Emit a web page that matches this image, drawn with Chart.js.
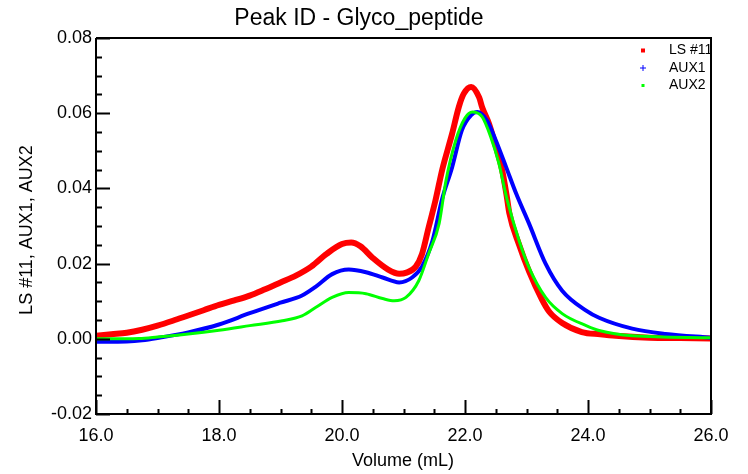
<!DOCTYPE html>
<html lang="en">
<head>
    <meta charset="UTF-8">
    <title>Peak ID - Glyco_peptide</title>
    <script src="https://cdn.jsdelivr.net/npm/chart.js"></script>
    <style>
        html, body { margin: 0; padding: 0; background: #fff; }
        #wrap { width: 748px; height: 474px; }
    </style>
</head>
<body>
    <div id="wrap"><canvas id="myChart" width="748" height="474"></canvas></div>

<script>
// dados (volume em mL)
const lsVolume = [16.0, 16.25, 16.5, 16.75, 17.0, 17.25, 17.5, 17.75, 18.0, 18.25, 18.5, 18.75, 19.0, 19.25, 19.5, 19.75, 20.0, 20.15, 20.3, 20.5, 20.75, 20.93, 21.05, 21.2, 21.3, 21.41, 21.52, 21.63, 21.79, 21.9, 21.98, 22.1, 22.23, 22.28, 22.39, 22.5, 22.6, 22.68, 22.72, 22.88, 23.04, 23.25, 23.37, 23.58, 23.9, 24.2, 24.45, 25.0, 25.5, 26.0];
const lsValues = [0.0008, 0.0012, 0.0016, 0.0024, 0.0035, 0.0048, 0.0062, 0.0076, 0.0090, 0.0102, 0.0115, 0.0132, 0.0150, 0.0168, 0.0192, 0.0226, 0.0252, 0.0256, 0.0246, 0.0215, 0.0184, 0.0173, 0.0176, 0.0192, 0.0225, 0.0297, 0.0368, 0.0450, 0.0545, 0.0617, 0.0652, 0.0670, 0.0642, 0.0615, 0.0572, 0.0512, 0.0452, 0.0378, 0.0335, 0.0250, 0.0180, 0.0105, 0.0072, 0.0042, 0.0018, 0.0012, 0.0008, 0.0003, 0.0002, 0.0001];

const aux1Volume = [16.0, 16.5, 16.75, 17.0, 17.5, 18.0, 18.5, 19.0, 19.35, 19.57, 19.84, 20.11, 20.39, 20.66, 20.93, 21.14, 21.3, 21.47, 21.63, 21.79, 21.95, 22.1, 22.2, 22.36, 22.5, 22.67, 22.83, 23.04, 23.31, 23.58, 23.97, 24.18, 24.72, 25.26, 26.0];
const aux1Values = [-0.0008, -0.0007, -0.0004, 0.0002, 0.0017, 0.0038, 0.0068, 0.0096, 0.0115, 0.0138, 0.0172, 0.0184, 0.0177, 0.0163, 0.0150, 0.0163, 0.0192, 0.0260, 0.0373, 0.0456, 0.0555, 0.0595, 0.0603, 0.0580, 0.0528, 0.0456, 0.0387, 0.0307, 0.0200, 0.0128, 0.0075, 0.0056, 0.0027, 0.0013, 0.0003];

const aux2Volume = [16.0, 16.7, 17.0, 17.5, 18.0, 18.5, 19.03, 19.35, 19.57, 19.84, 20.11, 20.39, 20.66, 20.85, 21.04, 21.25, 21.41, 21.58, 21.69, 21.85, 22.0, 22.12, 22.28, 22.42, 22.55, 22.68, 22.88, 23.04, 23.31, 23.58, 23.97, 24.18, 24.72, 26.0];
const aux2Values = [0.0000, 0.0001, 0.0005, 0.0013, 0.0023, 0.0035, 0.0048, 0.0061, 0.0083, 0.0110, 0.0123, 0.0120, 0.0107, 0.0101, 0.0110, 0.0155, 0.0227, 0.0307, 0.0420, 0.0528, 0.0587, 0.0603, 0.0590, 0.0536, 0.0467, 0.0373, 0.0261, 0.0190, 0.0110, 0.0067, 0.0035, 0.0022, 0.0008, 0.0003];

const seriesNames = ['LS #11', 'AUX1', 'AUX2'];
const xTickLabels = ['16.0', '18.0', '20.0', '22.0', '24.0', '26.0'];
const yTickLabels = ['-0.02', '0.00', '0.02', '0.04', '0.06', '0.08'];

const fonte = '"Liberation Sans", Arial, sans-serif';

function pares(vol, val) {
    let lista = [];
    for (let i = 0; i < vol.length; i++) {
        lista.push({ x: vol[i], y: val[i] });
    }
    return lista;
}

// titulo, eixos, moldura, ticks para dentro e legenda
const desenhoExtra = {
    id: 'desenhoExtra',
    afterDraw(chart) {
        const ctx = chart.ctx;
        const area = chart.chartArea;
        const xs = chart.scales.x;
        const ys = chart.scales.y;
        ctx.save();

        ctx.strokeStyle = '#000';
        ctx.lineWidth = 2;
        ctx.beginPath();
        ctx.moveTo(area.left, area.top);
        ctx.lineTo(area.left, area.bottom);
        ctx.lineTo(area.right, area.bottom);
        ctx.lineTo(area.right, area.top);
        ctx.lineTo(area.left, area.top);
        ctx.stroke();

        // ticks
        ctx.lineWidth = 2;
        ctx.beginPath();
        for (let i = 0; i <= 20; i++) {
            let v = 16 + i * 0.5;
            let px = Math.round(xs.getPixelForValue(v)) + 0.5;
            let len = (i % 4 == 0) ? 14 : 5;
            ctx.moveTo(px, area.bottom);
            ctx.lineTo(px, area.bottom - len);
        }
        for (let i = 0; i <= 20; i++) {
            let v = -0.02 + i * 0.005;
            let py = Math.round(ys.getPixelForValue(v)) + 0.5;
            let len = (i % 4 == 0) ? 14 : 6;
            ctx.moveTo(area.left, py);
            ctx.lineTo(area.left + len, py);
        }
        ctx.stroke();

        // titulo
        ctx.fillStyle = '#000';
        ctx.font = '23px ' + fonte;
        ctx.textAlign = 'center';
        ctx.textBaseline = 'alphabetic';
        ctx.fillText('Peak ID - Glyco_peptide', 359, 25);

        // titulos dos eixos
        ctx.font = '18px ' + fonte;
        ctx.textBaseline = 'middle';
        ctx.fillText('Volume (mL)', 403, 461);
        ctx.save();
        ctx.translate(27, 230);
        ctx.rotate(-Math.PI / 2);
        ctx.fillText('LS #11, AUX1, AUX2', 0, 0);
        ctx.restore();

        // legenda
        ctx.font = '14px ' + fonte;
        ctx.textAlign = 'left';
        const linhas = [50.5, 68, 85.5];
        ctx.fillStyle = 'rgb(255,0,0)';
        ctx.fillRect(641, linhas[0] - 2, 4, 4);
        ctx.strokeStyle = 'rgb(0,0,255)';
        ctx.lineWidth = 1;
        ctx.beginPath();
        ctx.moveTo(640, linhas[1]); ctx.lineTo(646, linhas[1]);
        ctx.moveTo(643, linhas[1] - 3); ctx.lineTo(643, linhas[1] + 3);
        ctx.stroke();
        ctx.fillStyle = 'rgb(0,255,0)';
        ctx.fillRect(641.5, linhas[2] - 1.5, 3, 3);
        ctx.fillStyle = '#000';
        for (let i = 0; i < seriesNames.length; i++) {
            ctx.fillText(seriesNames[i], 669, linhas[i]);
        }
        ctx.restore();
    }
};

const config = {
    type: 'line',
    data: {
        datasets: [
            {
                label: seriesNames[0],
                data: pares(lsVolume, lsValues),
                borderColor: 'rgb(255, 0, 0)',
                borderWidth: 6,
                pointRadius: 0,
                cubicInterpolationMode: 'monotone',
                order: 3
            },
            {
                label: seriesNames[1],
                data: pares(aux1Volume, aux1Values),
                borderColor: 'rgb(0, 0, 255)',
                borderWidth: 4,
                pointRadius: 0,
                cubicInterpolationMode: 'monotone',
                order: 2
            },
            {
                label: seriesNames[2],
                data: pares(aux2Volume, aux2Values),
                borderColor: 'rgb(0, 255, 0)',
                borderWidth: 3,
                pointRadius: 0,
                cubicInterpolationMode: 'monotone',
                order: 1
            }
        ]
    },
    options: {
        responsive: false,
        animation: false,
        devicePixelRatio: 1,
        layout: { padding: { top: 38, right: 37, left: 0, bottom: 0 } },
        plugins: {
            legend: { display: false },
            title: { display: false },
            tooltip: { enabled: false }
        },
        scales: {
            x: {
                type: 'linear',
                min: 16,
                max: 26,
                grid: { display: false, drawTicks: false, tickLength: 0 },
                border: { display: false },
                afterFit: function (scale) { scale.height = 60; },
                afterBuildTicks: function (scale) {
                    scale.ticks = xTickLabels.map(t => ({ value: parseFloat(t) }));
                },
                ticks: {
                    color: '#000',
                    padding: 11,
                    maxRotation: 0,
                    font: { family: fonte, size: 18 },
                    callback: function (v) { return v.toFixed(1); }
                }
            },
            y: {
                min: -0.02,
                max: 0.08,
                grid: { display: false, drawTicks: false, tickLength: 0 },
                border: { display: false },
                afterFit: function (scale) { scale.width = 96; },
                afterBuildTicks: function (scale) {
                    scale.ticks = yTickLabels.map(t => ({ value: parseFloat(t) }));
                },
                ticks: {
                    color: '#000',
                    padding: 4,
                    font: { family: fonte, size: 18 },
                    callback: function (v) { return v.toFixed(2); }
                }
            }
        }
    },
    plugins: [desenhoExtra]
};

let myChart = new Chart(document.getElementById('myChart'), config);
</script>
</body>
</html>
